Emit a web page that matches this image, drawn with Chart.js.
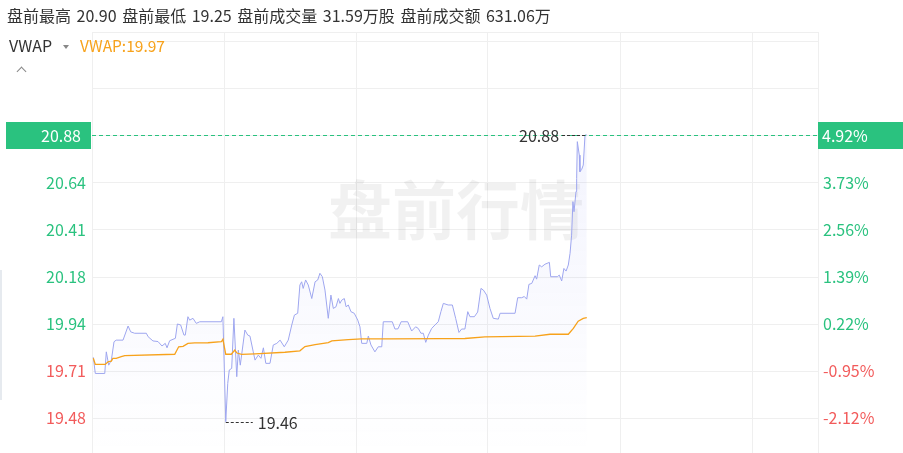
<!DOCTYPE html>
<html>
<head>
<meta charset="utf-8">
<script src="https://cdn.jsdelivr.net/npm/chart.js@4/dist/chart.umd.min.js"></script>
<style>
  html, body { margin: 0; padding: 0; background: #fff; }
  body { width: 903px; height: 453px; position: relative; overflow: hidden; font-family: "Noto Sans CJK SC", "Noto Sans", sans-serif; }
  #wrap { position: absolute; left: 0; top: 0; width: 903px; height: 453px; }
  .hdr { position: absolute; left: 7px; top: 5px; font-size: 16px; color: #333; white-space: nowrap; line-height: 20px; word-spacing: 2px; }
  .ind { position: absolute; left: 9px; top: 35px; font-size: 16px; color: #333; white-space: nowrap; line-height: 20px; }
  .ind .tri { display: inline-block; width: 0; height: 0; border-left: 3.5px solid transparent; border-right: 3.5px solid transparent; border-top: 4px solid #888; vertical-align: middle; margin: 0 11px 2px 11px; }
  .ind .vw { color: #f7a21b; font-size: 15.5px; }
  .chev { position: absolute; left: 18px; top: 68px; width: 6px; height: 6px; border-left: 1.5px solid #888; border-top: 1.5px solid #888; transform: rotate(45deg); }
  .sidebar { position: absolute; left: 0; top: 270px; width: 2px; height: 130px; background: #e6eaef; }
</style>
</head>
<body>
<div id="wrap"><canvas id="c" width="903" height="453"></canvas></div>
<div class="hdr" id="hdr"></div>
<div class="ind"><span>VWAP</span><span class="tri"></span><span class="vw" id="vwlabel"></span></div>
<div class="chev"></div>
<div class="sidebar"></div>
<script>
// ---- data ----
const prevClose = 19.9;
const headerItems = ["盘前最高 20.90", "盘前最低 19.25", "盘前成交量 31.59万股", "盘前成交额 631.06万"];
const vwapLabel = "VWAP:19.97";
const watermark = "盘前行情";
// minutes since 04:00 (pre-market session 04:00–09:30)
const sessionMinutes = [0, 330];
const gridMinutes = [0, 60, 120, 180, 240, 300, 330];
const tickPcts = [-2.12, -0.95, 0.22, 1.39, 2.56, 3.73, 4.90, 6.07, 7.24];
const axisMin = 19.305, axisMax = 21.39;

const priceMinutes = [0.6,1.5,5.8,6.5,7.6,8.8,10.0,11.0,14.1,16.4,17.6,19.4,24.7,25.5,27.7,30.0,31.8,33.3,34.1,35.3,37.9,38.8,40.3,41.8,42.4,43.6,44.4,45.9,47.4,49.0,58.8,59.5,60.8,61.7,62.4,63.5,64.5,65.8,66.5,67.4,69.5,70.8,71.8,73.3,74.1,75.6,76.8,77.9,79.0,80.9,82.4,84.0,85.5,87.4,89.2,90.8,92.0,93.5,94.5,95.3,96.0,97.1,98.3,99.9,101.4,102.6,103.6,104.7,105.9,107.4,108.6,109.7,110.9,112.0,112.7,113.5,114.7,115.5,116.5,117.7,119.2,120.8,121.8,122.6,124.9,125.6,126.8,128.6,130.1,131.7,132.4,136.5,137.7,139.1,140.5,143.5,145.3,147.1,148.3,149.5,150.6,151.7,152.9,154.4,155.9,157.4,158.6,159.7,161.9,163.8,165.3,166.8,168.0,169.5,170.8,171.8,173.8,175.3,176.8,177.9,179.4,180.9,182.4,184.7,185.5,192.3,193.5,195.3,196.5,197.6,198.6,199.9,201.4,202.1,203.3,204.4,205.9,207.9,208.5,211.5,212.4,213.5,214.5,215.5,216.5,217.3,218.0,218.6,219.1,220.0,220.3,220.6,221.5,221.8,222.6,223.3,224.1,224.9];
const priceValues = [19.779,19.699,19.699,19.806,19.740,19.765,19.856,19.864,19.864,19.934,19.905,19.898,19.898,19.881,19.860,19.857,19.835,19.848,19.826,19.861,19.873,19.944,19.939,19.889,19.889,19.980,19.963,19.972,19.947,19.955,19.955,19.980,19.460,19.650,19.716,19.724,19.972,19.683,19.815,19.740,19.914,19.889,19.884,19.806,19.765,19.790,19.774,19.826,19.749,19.749,19.840,19.848,19.864,19.831,19.864,19.939,19.988,19.997,20.137,20.153,20.120,20.162,20.137,20.070,20.153,20.162,20.195,20.178,20.112,19.972,20.087,20.021,20.029,20.070,20.046,20.062,20.070,20.029,20.038,20.005,19.997,19.963,19.930,19.848,19.848,19.884,19.840,19.806,19.831,19.831,19.955,19.955,19.919,19.920,19.955,19.955,19.909,19.930,19.922,19.898,19.898,19.853,19.889,19.922,19.939,19.955,20.005,20.046,20.038,20.038,19.972,19.902,19.919,19.919,20.005,19.980,19.980,20.003,20.120,20.112,20.087,20.021,19.972,19.968,19.997,19.997,20.074,20.074,20.080,20.067,20.140,20.145,20.183,20.166,20.236,20.227,20.240,20.249,20.178,20.178,20.186,20.157,20.219,20.206,20.236,20.294,20.384,20.550,20.500,20.600,20.665,20.847,20.780,20.698,20.710,20.731,20.880,20.880];

const vwapMinutes = [0.6,1.5,6.0,7.3,8.8,9.5,11.0,13.3,14.9,37.6,39.4,41.4,43.6,46.7,52.7,58.8,59.5,60.8,63.3,64.9,65.9,68.0,74.1,87.7,94.5,96.8,101.4,107.4,109.0,116.5,122.6,135.5,158.9,169.5,178.6,201.4,208.2,216.5,218.8,221.0,223.3,224.9];
const vwapValues = [19.774,19.744,19.744,19.757,19.760,19.774,19.774,19.782,19.787,19.794,19.831,19.833,19.848,19.850,19.851,19.856,19.868,19.794,19.794,19.815,19.800,19.793,19.796,19.804,19.811,19.832,19.842,19.852,19.860,19.866,19.870,19.870,19.871,19.872,19.880,19.884,19.893,19.893,19.922,19.958,19.972,19.975];

// ---- colors ----
const UP = '#2ac27f', DOWN = '#f25b5b', GRID = '#efefef';

document.getElementById('hdr').textContent = headerItems.join(' ');
document.getElementById('vwlabel').textContent = vwapLabel;

const tickPrices = tickPcts.map(p => prevClose * (1 + p / 100));
const lastPrice = priceValues[priceValues.length - 1];
const FAM = '"Noto Sans CJK SC", "Noto Sans", sans-serif';
const labelFont = '16px ' + FAM;

const overlay = {
  id: 'overlay',
  beforeDatasetsDraw(chart) {
    const { ctx, chartArea: ca } = chart;
    ctx.save();
    ctx.strokeStyle = GRID; ctx.lineWidth = 1;
    ctx.beginPath(); ctx.moveTo(ca.left, ca.top + 0.5); ctx.lineTo(ca.right, ca.top + 0.5); ctx.stroke();
    ctx.font = 'bold 64px ' + FAM;
    ctx.fillStyle = 'rgba(0,0,0,0.055)';
    ctx.textAlign = 'center'; ctx.textBaseline = 'middle';
    ctx.fillText(watermark, 456, 210);
    ctx.restore();
  },
  afterDatasetsDraw(chart) {
    const { ctx, chartArea: ca, scales } = chart;
    const xs = scales.x, ys = scales.y;
    ctx.save();
    // last price dashed line
    const yl = Math.round(ys.getPixelForValue(lastPrice)) + 0.5;
    ctx.strokeStyle = UP; ctx.lineWidth = 1; ctx.setLineDash([4, 3]);
    ctx.beginPath(); ctx.moveTo(ca.left, yl); ctx.lineTo(ca.right, yl); ctx.stroke();
    ctx.setLineDash([]);
    // highlight boxes
    ctx.fillStyle = UP;
    ctx.fillRect(6, yl - 13.5, 85, 27);
    ctx.fillRect(ca.right, yl - 13.5, 903 - ca.right, 27);
    ctx.fillStyle = '#fff'; ctx.font = labelFont; ctx.textBaseline = 'middle';
    ctx.textAlign = 'right'; ctx.fillText(lastPrice.toFixed(2), 81, yl);
    ctx.textAlign = 'left';
    ctx.fillText(((lastPrice / prevClose - 1) * 100).toFixed(2) + '%', ca.right + 4, yl);
    // high / low markers
    let hi = 0, lo = 0;
    priceValues.forEach((v, i) => { if (v > priceValues[hi]) hi = i; if (v < priceValues[lo]) lo = i; });
    ctx.font = labelFont;
    ctx.fillStyle = '#333'; ctx.strokeStyle = '#333'; ctx.setLineDash([3, 2]);
    const hx = xs.getPixelForValue(priceMinutes[hi]), hy = Math.round(ys.getPixelForValue(priceValues[hi])) + 0.5;
    ctx.beginPath(); ctx.moveTo(hx, hy); ctx.lineTo(hx - 25, hy); ctx.stroke();
    ctx.textAlign = 'right'; ctx.fillText(priceValues[hi].toFixed(2), hx - 26, hy);
    const lx = xs.getPixelForValue(priceMinutes[lo]), ly = Math.round(ys.getPixelForValue(priceValues[lo])) + 0.5;
    ctx.beginPath(); ctx.moveTo(lx, ly); ctx.lineTo(lx + 27, ly); ctx.stroke();
    ctx.textAlign = 'left'; ctx.fillText(priceValues[lo].toFixed(2), lx + 32, ly);
    ctx.restore();
  }
};

const noPad = s => { s.paddingTop = 0; s.paddingBottom = 0; };

new Chart(document.getElementById('c'), {
  type: 'line',
  data: {
    datasets: [
      {
        label: 'VWAP',
        data: vwapMinutes.map((m, i) => ({ x: m, y: vwapValues[i] })),
        borderColor: '#f7a21b', borderWidth: 1.3, pointRadius: 0, fill: false, tension: 0
      },
      {
        label: 'Price',
        data: priceMinutes.map((m, i) => ({ x: m, y: priceValues[i] })),
        borderColor: '#9ea6ef', borderWidth: 1, pointRadius: 0, tension: 0,
        fill: 'start',
        backgroundColor: (c) => {
          const ca = c.chart.chartArea;
          if (!ca) return 'transparent';
          const g = c.chart.ctx.createLinearGradient(0, ca.top + 100, 0, ca.bottom);
          g.addColorStop(0, 'rgba(120,130,240,0.09)');
          g.addColorStop(1, 'rgba(120,130,240,0.0)');
          return g;
        }
      }
    ]
  },
  options: {
    responsive: false, animation: false, devicePixelRatio: 1,
    layout: { padding: { top: 32, left: 0, right: 0, bottom: 0 } },
    plugins: { legend: { display: false }, tooltip: { enabled: false } },
    scales: {
      x: {
        type: 'linear', min: sessionMinutes[0], max: sessionMinutes[1],
        ticks: { display: false },
        grid: { color: GRID, drawTicks: false },
        border: { display: false },
        afterBuildTicks: s => { s.ticks = gridMinutes.map(v => ({ value: v })); },
        afterFit: s => { s.height = 0; s.paddingLeft = 0; s.paddingRight = 0; }
      },
      y: {
        position: 'left', min: axisMin, max: axisMax,
        afterBuildTicks: s => { s.ticks = tickPrices.map(v => ({ value: v })); },
        afterFit: s => { s.width = 92; noPad(s); },
        grid: { color: GRID, drawTicks: false },
        border: { display: false },
        ticks: {
          padding: 6, font: { size: 16, family: FAM },
          color: c => (c.tick.value < prevClose ? DOWN : UP),
          callback: (v, i) => (i < 6 ? v.toFixed(2) : '')
        }
      },
      y2: {
        position: 'right', min: axisMin, max: axisMax,
        afterBuildTicks: s => { s.ticks = tickPrices.map(v => ({ value: v })); },
        afterFit: s => { s.width = 85; noPad(s); },
        grid: { display: false, drawTicks: false },
        border: { display: false },
        ticks: {
          padding: 5, font: { size: 16, family: FAM },
          color: c => (c.tick.value < prevClose ? DOWN : UP),
          callback: (v, i) => (i < 6 ? tickPcts[i].toFixed(2) + '%' : '')
        }
      }
    }
  },
  plugins: [overlay]
});
</script>
</body>
</html>
